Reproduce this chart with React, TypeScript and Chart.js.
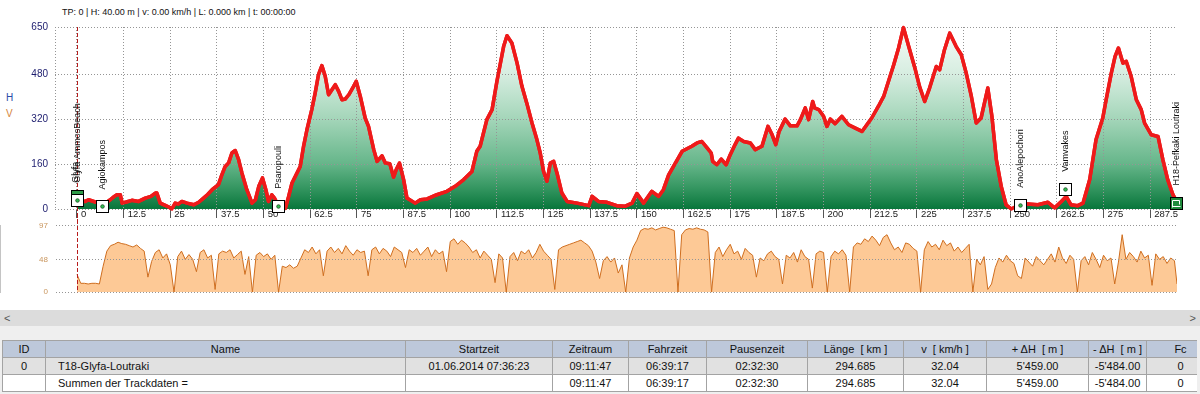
import React, { useEffect, useRef } from 'react';
import { Chart, registerables } from 'chart.js';

Chart.register(...registerables);

// ---------------- data ----------------
const trackLengthKm = 294.685;
const xMinKm = -5.89;
const cursorKm = 0;

const kmTicks = [0, 12.5, 25, 37.5, 50, 62.5, 75, 87.5, 100, 112.5, 125, 137.5, 150, 162.5, 175, 187.5, 200, 212.5, 225, 237.5, 250, 262.5, 275, 287.5];
const kmTickLabels = ['0', '12.5', '25', '37.5', '50', '62.5', '75', '87.5', '100', '112.5', '125', '137.5', '150', '162.5', '175', '187.5', '200', '212.5', '225', '237.5', '250', '262.5', '275', '287.5'];
const elevTicks = [0, 160, 320, 480, 650];
const speedTicks = [0, 48, 97];

const elevKm = [
  0, 1.0, 2.2, 3.1, 4.9, 6.5, 7.6, 8.9, 10.0, 10.7, 11.6, 12.1, 13.2, 14.7, 16.5, 18.3, 19.8, 21.0, 21.4, 22.3,
  23.5, 24.6, 25.4, 26.3, 27.2, 28.1, 29.5, 31.3, 32.6, 33.9, 35.0, 36.2, 37.9, 38.8, 39.7, 40.6, 41.5, 42.4, 43.3, 44.2,
  45.5, 46.9, 47.8, 48.7, 49.7, 50.6, 51.3, 52.2, 52.9, 54.0, 55.8, 56.7, 57.6, 58.5, 59.8, 60.7, 61.6, 62.9, 63.8, 64.7,
  65.6, 66.5, 67.4, 68.3, 69.2, 70.1, 71.0, 71.9, 72.8, 74.1, 74.8, 75.9, 77.2, 78.1, 79.5, 80.4, 81.7, 82.6, 83.8, 84.8,
  85.5, 86.4, 87.5, 88.4, 90.6, 92.0, 93.8, 96.4, 99.1, 101.3, 103.6, 105.8, 107.1, 108.0, 109.8, 111.2, 112.5, 114.3, 115.2, 116.5,
  117.9, 119.2, 120.5, 121.9, 123.2, 124.1, 125.0, 125.9, 126.8, 127.7, 128.6, 129.9, 131.3, 134.0, 137.1, 138.0, 139.7, 142.0, 144.6, 146.9,
  148.7, 150.0, 151.8, 154.0, 155.8, 157.1, 158.5, 160.3, 162.1, 164.7, 166.1, 167.4, 168.8, 169.9, 170.3, 171.4, 172.6, 173.9, 175.0, 176.3,
  177.2, 178.6, 180.4, 181.7, 183.5, 185.1, 186.2, 187.2, 188.1, 189.7, 191.1, 192.9, 193.8, 195.1, 196.0, 197.1, 197.6, 198.7, 200.0, 200.9,
  201.8, 203.1, 204.9, 206.7, 208.5, 210.3, 211.6, 212.9, 214.7, 216.1, 217.4, 218.8, 220.1, 221.4, 222.8, 224.6, 225.7, 227.1, 228.4, 230.2,
  231.1, 232.4, 233.8, 235.5, 236.9, 238.2, 239.6, 240.9, 242.2, 244.0, 245.1, 246.3, 247.6, 248.9, 250.3, 252.5, 254.7, 257.4, 260.1, 261.9,
  263.7, 265.0, 266.3, 268.1, 269.5, 271.3, 273.0, 274.8, 275.7, 277.1, 278.1, 279.0, 280.2, 281.1, 282.4, 283.8, 285.1, 286.0, 287.8, 289.6,
  290.9, 292.2, 293.6, 294.685,
];
const elevM = [
  40, 30, 27, 33, 25, 20, 21, 33, 45, 51, 51, 21, 25, 31, 27, 39, 45, 57, 57, 21,
  14, 7, 0, 21, 18, 27, 21, 15, 24, 39, 52, 69, 87, 122, 152, 164, 200, 209, 176, 128,
  69, 21, 33, 81, 111, 69, 27, 51, 39, 10, 2, 45, 93, 117, 152, 224, 283, 355, 414, 480,
  512, 474, 408, 426, 444, 420, 390, 393, 408, 438, 456, 402, 325, 295, 212, 170, 190, 164, 162, 114,
  140, 164, 105, 39, 21, 33, 36, 51, 63, 81, 105, 134, 206, 224, 319, 355, 456, 581, 619, 593,
  521, 438, 378, 307, 248, 200, 134, 99, 164, 170, 128, 57, 27, 21, 12, 45, 27, 24, 12, 10,
  21, 55, 21, 63, 45, 69, 122, 164, 206, 224, 236, 241, 218, 200, 170, 158, 178, 158, 194, 230,
  253, 241, 236, 212, 224, 295, 266, 230, 277, 321, 297, 297, 319, 361, 319, 384, 361, 355, 331, 295,
  321, 305, 331, 301, 289, 277, 301, 325, 367, 402, 456, 515, 575, 648, 581, 497, 438, 384, 432, 509,
  497, 569, 628, 581, 551, 486, 402, 307, 325, 432, 331, 176, 81, 15, 0, 15, 18, 15, 24, 4,
  27, 45, 15, 12, 21, 105, 248, 325, 390, 486, 545, 575, 521, 527, 474, 390, 355, 307, 265, 259,
  176, 105, 51, 25,
];

// speed samples, one per km from km 0
const speedStepKm = 1;
const speedKmh = [
  26, 13, 13, 12, 13, 13, 12, 38, 60, 68,
  70, 73, 71, 70, 68, 66, 69, 64, 60, 22,
  45, 58, 62, 50, 56, 40, 0, 52, 60, 48,
  55, 48, 30, 58, 62, 50, 54, 4, 56, 60,
  58, 62, 50, 55, 60, 26, 52, 0, 54, 58,
  52, 56, 48, 54, 0, 38, 36, 40, 35, 38,
  50, 62, 58, 66, 56, 62, 24, 60, 66, 58,
  64, 56, 68, 60, 54, 62, 58, 60, 24, 62,
  66, 56, 64, 60, 52, 66, 62, 58, 36, 62,
  58, 64, 54, 60, 66, 52, 62, 56, 60, 30,
  74, 78, 70, 76, 72, 66, 58, 62, 50, 60,
  54, 48, 14, 56, 50, 0, 52, 58, 46, 60,
  56, 62, 50, 58, 70, 60, 54, 48, 4, 62,
  66, 68, 70, 72, 74, 76, 72, 68, 60, 44,
  20, 46, 52, 44, 50, 28, 40, 0, 50, 66,
  76, 90, 93, 92, 94, 91, 93, 95, 94, 92,
  90, 0, 84, 91, 93, 92, 94, 92, 91, 88,
  0, 58, 66, 52, 62, 70, 56, 60, 48, 64,
  58, 54, 22, 50, 46, 56, 60, 52, 48, 12,
  54, 50, 58, 44, 62, 52, 48, 6, 56, 60,
  58, 0, 52, 60, 56, 62, 54, 0, 66, 72,
  70, 78, 74, 82, 76, 68, 80, 84, 72, 62,
  66, 58, 72, 70, 64, 60, 0, 62, 74, 66,
  70, 62, 76, 68, 72, 60, 66, 58, 64, 70,
  0, 48, 40, 52, 4, 12, 36, 50, 44, 54,
  46, 42, 24, 20, 50, 44, 38, 52, 46, 40,
  48, 56, 44, 66, 50, 42, 54, 48, 0, 46,
  52, 40, 58, 48, 36, 54, 46, 50, 12, 44,
  84, 48, 58, 52, 44, 60, 50, 54, 10, 56,
  48, 52, 42, 50, 46,
];
const speedEndKmh = 12;

const wpNames = ['Glyfa AmmosBeach', 'Agiokampos', 'Psaropouli', 'AnoAlepochori', 'Vamvakes'];
const wpKm = [0, 6.7, 53.8, 252.5, 264.6];
const wpElev = [33, 9, 12, 15, 72];
const startName = 'Glyfa';
const startElev = 40;
const endName = 'H18-Pefkaki Loutraki';
const endKm = 294.3;
const endElev = 23;

const statusText = 'TP: 0 | H: 40.00 m | v: 0.00 km/h | L: 0.000 km | t: 00:00:00';

const colEdges = [2, 45, 405, 552, 628, 706, 807, 903, 986, 1088, 1146, 1214];
const tableHeaders = ['ID', 'Name', 'Startzeit', 'Zeitraum', 'Fahrzeit', 'Pausenzeit', 'Länge  [ km ]', 'v  [ km/h ]', '+ ΔH  [ m ]', '- ΔH  [ m ]', 'Fc'];
const tableRow1 = ['0', 'T18-Glyfa-Loutraki', '01.06.2014 07:36:23', '09:11:47', '06:39:17', '02:32:30', '294.685', '32.04', "5'459.00", "-5'484.00", '0'];
const tableRow2 = ['', 'Summen der Trackdaten =', '', '09:11:47', '06:39:17', '02:32:30', '294.685', '32.04', "5'459.00", "-5'484.00", '0'];

// ---------------- styles ----------------
const NARROW = '"Liberation Sans Narrow", "Liberation Sans", Arial, sans-serif';
const REGULAR = '"Liberation Sans", Arial, sans-serif';
const GRID = '#959595';

function drawCursor(chart: any, y0: number, y1: number) {
  const ctx = chart.ctx;
  const x = Math.round(chart.scales.x.getPixelForValue(cursorKm)) + 0.5;
  ctx.save();
  ctx.strokeStyle = '#b81c1c';
  ctx.lineWidth = 1;
  ctx.setLineDash([4, 2]);
  ctx.beginPath();
  ctx.moveTo(x, y0);
  ctx.lineTo(x, y1);
  ctx.stroke();
  ctx.restore();
}

function drawBox(ctx: CanvasRenderingContext2D, x: number, y: number, fill: string) {
  const l = Math.round(x - 6) + 0.5;
  const t = Math.round(y - 6) + 0.5;
  ctx.fillStyle = fill;
  ctx.fillRect(l, t, 12, 12);
  ctx.strokeStyle = '#000';
  ctx.lineWidth = 1;
  ctx.strokeRect(l, t, 12, 12);
}

function drawDot(ctx: CanvasRenderingContext2D, x: number, y: number) {
  ctx.beginPath();
  ctx.arc(Math.round(x) + 0.5, Math.round(y) + 0.5, 1.8, 0, Math.PI * 2);
  ctx.fillStyle = '#2fbf4f';
  ctx.fill();
  ctx.strokeStyle = '#1d4d25';
  ctx.lineWidth = 0.8;
  ctx.stroke();
}

function drawLabel(ctx: CanvasRenderingContext2D, text: string, x: number, yBottom: number) {
  ctx.save();
  ctx.translate(Math.round(x) + 0.5, yBottom);
  ctx.rotate(-Math.PI / 2);
  ctx.font = `9px ${REGULAR}`;
  ctx.fillStyle = '#111';
  ctx.textAlign = 'left';
  ctx.textBaseline = 'middle';
  ctx.fillText(text, 0, 0);
  ctx.restore();
}

const elevOverlay = {
  id: 'elevOverlay',
  afterDraw(chart: any) {
    const { ctx, chartArea } = chart;
    const xs = chart.scales.x;
    const ys = chart.scales.y;
    // red profile above the dotted grid
    const meta = chart.getDatasetMeta(0);
    ctx.save();
    ctx.beginPath();
    ctx.rect(chartArea.left, chartArea.top - 4, chartArea.right - chartArea.left + 4, chartArea.bottom - chartArea.top + 6);
    ctx.clip();
    meta.dataset.draw(ctx, chartArea);
    ctx.restore();

    drawCursor(chart, chartArea.top, chart.height);

    ctx.save();
    // start marker (green) behind first waypoint
    const sx = xs.getPixelForValue(wpKm[0]);
    drawBox(ctx, sx, ys.getPixelForValue(startElev) - 2, '#2f9a48');
    for (let i = 0; i < wpNames.length; i++) {
      const px = xs.getPixelForValue(wpKm[i]);
      const py = ys.getPixelForValue(wpElev[i]);
      drawBox(ctx, px, py, '#ffffff');
      drawDot(ctx, px, py);
      drawLabel(ctx, wpNames[i], px, py - 17);
    }
    drawLabel(ctx, startName, sx - 2, ys.getPixelForValue(wpElev[0]) - 17);
    // end marker
    const ex = xs.getPixelForValue(endKm);
    const ey = ys.getPixelForValue(endElev);
    drawBox(ctx, ex, ey, '#1f8a3c');
    const cx = Math.round(ex) + 0.5;
    const cy = Math.round(ey) + 0.5;
    ctx.strokeStyle = '#ffffff';
    ctx.lineWidth = 1;
    ctx.beginPath();
    ctx.moveTo(cx - 4, cy - 3);
    ctx.lineTo(cx + 3, cy - 3);
    ctx.moveTo(cx - 4, cy - 3);
    ctx.lineTo(cx - 4, cy + 4);
    ctx.moveTo(cx + 3, cy - 3);
    ctx.lineTo(cx + 3, cy + 1);
    ctx.moveTo(cx - 4, cy + 3);
    ctx.lineTo(cx + 4, cy + 3);
    ctx.stroke();
    drawLabel(ctx, endName, ex, ey - 17);
    ctx.restore();
  },
};

const speedOverlay = {
  id: 'speedOverlay',
  afterDraw(chart: any) {
    drawCursor(chart, 0, chart.chartArea.bottom);
  },
};

function elevGradient(context: any) {
  const chart = context.chart;
  const area = chart.chartArea;
  if (!area) return 'rgba(0,0,0,0)';
  const g = chart.ctx.createLinearGradient(0, area.top, 0, area.bottom);
  g.addColorStop(0, '#f6fbf8');
  g.addColorStop(0.26, '#d6ede0');
  g.addColorStop(0.5, '#a5d6ba');
  g.addColorStop(0.75, '#66b68a');
  g.addColorStop(0.88, '#369762');
  g.addColorStop(1, '#08763b');
  return g;
}

export default function App() {
  const elevRef = useRef<HTMLCanvasElement>(null);
  const speedRef = useRef<HTMLCanvasElement>(null);

  useEffect(() => {
    const elevChart = new Chart(elevRef.current as HTMLCanvasElement, {
      type: 'line',
      data: {
        datasets: [
          {
            data: elevKm.map((k, i) => ({ x: k, y: elevM[i] })),
            borderColor: '#ee1a1a',
            borderWidth: 3.5,
            borderJoinStyle: 'round',
            borderCapStyle: 'round',
            pointRadius: 0,
            tension: 0,
            fill: 'origin',
            backgroundColor: elevGradient,
          } as any,
        ],
      },
      options: {
        responsive: false,
        animation: false,
        devicePixelRatio: 1,
        events: [],
        layout: { padding: { left: 0, right: 23, top: 27, bottom: 0 } },
        plugins: { legend: { display: false }, tooltip: { enabled: false } },
        scales: {
          x: {
            type: 'linear',
            min: xMinKm,
            max: trackLengthKm,
            afterBuildTicks: (axis: any) => {
              axis.ticks = [xMinKm, ...kmTicks].map((v) => ({ value: v }));
            },
            afterFit: (axis: any) => {
              axis.height = 17;
            },
            ticks: {
              autoSkip: false,
              maxRotation: 0,
              align: 'start',
              labelOffset: 4,
              padding: -9,
              color: '#1a1a1a',
              font: { family: NARROW, size: 9.5 },
              callback: (_v: any, index: number) => (index === 0 ? '' : kmTickLabels[index - 1]),
            },
            grid: {
              color: GRID,
              lineWidth: 1,
              z: 1,
              drawTicks: true,
              tickLength: 9,
              tickBorderDash: [],
              tickColor: (c: any) => (c.index === 0 ? 'rgba(0,0,0,0)' : '#555'),
            },
            border: { display: false, dash: [1, 2] },
          } as any,
          y: {
            min: 0,
            max: 650,
            afterBuildTicks: (axis: any) => {
              axis.ticks = elevTicks.map((v) => ({ value: v }));
            },
            afterFit: (axis: any) => {
              axis.width = 55;
            },
            ticks: { color: '#1c1c6e', font: { family: REGULAR, size: 10 }, padding: 7 },
            grid: { color: GRID, lineWidth: 1, z: 1, drawTicks: false },
            border: { display: false, dash: [1, 2] },
          } as any,
        },
      },
      plugins: [elevOverlay],
    });

    const speedPoints = speedKmh.map((v, i) => ({ x: i * speedStepKm, y: v }));
    speedPoints.push({ x: trackLengthKm, y: speedEndKmh });

    const speedChart = new Chart(speedRef.current as HTMLCanvasElement, {
      type: 'line',
      data: {
        datasets: [
          {
            data: speedPoints,
            borderColor: '#cf6e1f',
            borderWidth: 1,
            pointRadius: 0,
            tension: 0,
            fill: 'origin',
            backgroundColor: '#fdc996',
          } as any,
        ],
      },
      options: {
        responsive: false,
        animation: false,
        devicePixelRatio: 1,
        events: [],
        layout: { padding: { left: 0, right: 23, top: 10, bottom: 5 } },
        plugins: { legend: { display: false }, tooltip: { enabled: false } },
        scales: {
          x: { type: 'linear', display: false, min: xMinKm, max: trackLengthKm } as any,
          y: {
            min: 0,
            max: 97,
            afterBuildTicks: (axis: any) => {
              axis.ticks = speedTicks.map((v) => ({ value: v }));
            },
            afterFit: (axis: any) => {
              axis.width = 55;
            },
            ticks: { color: '#c9965e', font: { family: REGULAR, size: 8 }, padding: 7 },
            grid: { color: GRID, lineWidth: 1, z: 1, drawTicks: false },
            border: { display: true, color: '#8a8a8a', width: 1, dash: [1, 2] },
          } as any,
        },
      },
      plugins: [speedOverlay],
    });

    return () => {
      elevChart.destroy();
      speedChart.destroy();
    };
  }, []);

  const cellBorder = '1px solid #a3a3a3';
  const renderRow = (cells: string[], bg: string, isHeader: boolean) => (
    <tr style={{ height: 17, background: bg }}>
      {cells.map((c, i) =>
        isHeader ? (
          <th key={i} style={{ border: cellBorder, padding: 0, fontWeight: 'normal', textAlign: 'center', whiteSpace: 'pre', overflow: 'hidden' }}>
            {c}
          </th>
        ) : (
          <td
            key={i}
            style={{
              border: cellBorder,
              padding: i === 1 ? '0 0 0 12px' : 0,
              textAlign: i === 1 ? 'left' : 'center',
              whiteSpace: 'pre',
              overflow: 'hidden',
            }}
          >
            {c}
          </td>
        )
      )}
    </tr>
  );

  return (
    <div style={{ position: 'absolute', left: 0, top: 0, width: 1200, height: 394, background: '#ffffff', overflow: 'hidden', fontFamily: REGULAR }}>
      <div style={{ position: 'absolute', left: 62, top: 5, fontSize: 9, lineHeight: '14px', color: '#111', whiteSpace: 'pre' }}>{statusText}</div>
      <div style={{ position: 'absolute', left: 6, top: 92, fontSize: 10, lineHeight: '12px', color: '#2a4aa8' }}>H</div>
      <div style={{ position: 'absolute', left: 6, top: 108, fontSize: 10, lineHeight: '12px', color: '#d4843c' }}>V</div>
      <canvas ref={elevRef} width={1200} height={226} style={{ position: 'absolute', left: 0, top: 0, width: 1200, height: 226 }} />
      <canvas ref={speedRef} width={1200} height={90} style={{ position: 'absolute', left: 0, top: 214, width: 1200, height: 90 }} />
      <div style={{ position: 'absolute', left: 0, top: 310, width: 1200, height: 16, background: '#dcdcdc' }}>
        <span style={{ position: 'absolute', left: 4, top: 1, fontSize: 11, lineHeight: '14px', color: '#555' }}>&lt;</span>
        <span style={{ position: 'absolute', right: 4, top: 1, fontSize: 11, lineHeight: '14px', color: '#555' }}>&gt;</span>
      </div>
      <div style={{ position: 'absolute', left: 0, top: 326, width: 1200, height: 68, background: '#efefef' }} />
      <div style={{ position: 'absolute', left: 0, top: 340, width: 1197, height: 54, overflow: 'hidden' }}>
        <table
          style={{
            position: 'absolute',
            left: colEdges[0],
            top: 0,
            width: colEdges[colEdges.length - 1] - colEdges[0],
            borderCollapse: 'collapse',
            tableLayout: 'fixed',
            fontFamily: NARROW,
            fontSize: 11,
            lineHeight: '15px',
            color: '#111',
          }}
        >
          <colgroup>
            {colEdges.slice(1).map((e, i) => (
              <col key={i} style={{ width: e - colEdges[i] }} />
            ))}
          </colgroup>
          <thead>{renderRow(tableHeaders, '#bdc8da', true)}</thead>
          <tbody>
            {renderRow(tableRow1, '#e1e1e1', false)}
            {renderRow(tableRow2, '#ffffff', false)}
          </tbody>
        </table>
      </div>
    </div>
  );
}
